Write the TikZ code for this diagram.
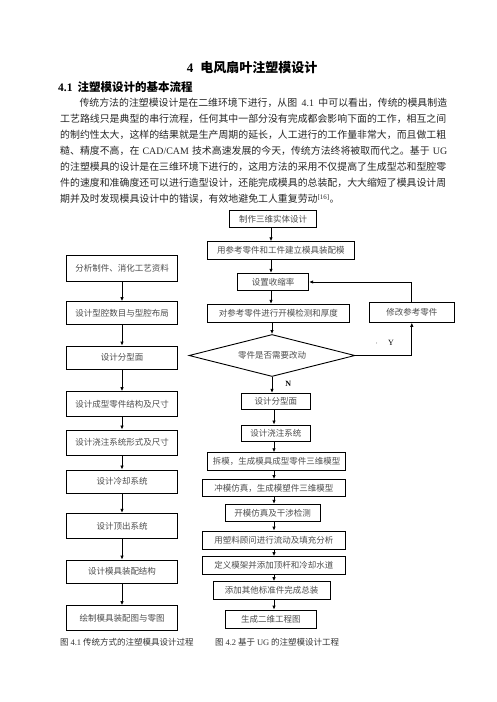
\documentclass[tikz,border=0pt]{standalone}
\usepackage{fontspec}
\setmainfont{Liberation Serif}
\newfontfamily\cjk{Noto Sans CJK SC}
\usetikzlibrary{shapes.geometric,arrows.meta}
\XeTeXlinebreaklocale "zh"
\XeTeXlinebreakskip=0pt plus 2pt
\newcommand{\latn}[1]{{\rmfamily #1}}
\begin{document}
\begin{tikzpicture}[x=1pt,y=-1pt,
  box/.style={draw,line width=0.9pt,inner sep=0pt,font=\cjk\fontsize{8.5}{10}\selectfont,text=black!70},
  lbox/.style={box,minimum width=110.6pt},
  flow/.style={line width=0.8pt,-{Latex[length=4pt,width=3.5pt]}},
  para/.style={anchor=west,inner sep=0pt,font=\cjk\fontsize{9.9}{12}\selectfont,text=black!85},
  figcap/.style={anchor=west,inner sep=0pt,font=\cjk\fontsize{8.5}{10}\selectfont,text=black!80}]
\useasboundingbox (0,0) rectangle (496,702);
% title and heading
\node[font=\cjk\bfseries\fontsize{13}{15}\selectfont] (title) at (252,68) {\latn{\bfseries 4}\hspace{7pt}电风扇叶注塑模设计};
\node[anchor=west,inner sep=0pt,font=\cjk\bfseries\fontsize{11.5}{13}\selectfont] (head) at (58,87) {\latn{\bfseries 4.1}\hspace{5pt}注塑模设计的基本流程};
% the paragraph
\node[para] (p1) at (79.3,103) {\makebox[367.7pt][s]{传统方法的注塑模设计是在二维环境下进行，从图 \latn{4.1} 中可以看出，传统的模具制造}};
\node[para] (p2) at (60,119) {\makebox[387pt][s]{工艺路线只是典型的串行流程，任何其中一部分没有完成都会影响下面的工作，相互之间}};
\node[para] (p3) at (60,135) {\makebox[387pt][s]{的制约性太大，这样的结果就是生产周期的延长，人工进行的工作量非常大，而且做工粗}};
\node[para] (p4) at (60,151) {\makebox[387pt][s]{糙、精度不高，在 \latn{CAD/CAM} 技术高速发展的今天，传统方法终将被取而代之。基于 \latn{UG}}};
\node[para] (p5) at (60,167) {\makebox[387pt][s]{的注塑模具的设计是在三维环境下进行的，这用方法的采用不仅提高了生成型芯和型腔零}};
\node[para] (p6) at (60,183) {\makebox[387pt][s]{件的速度和准确度还可以进行造型设计，还能完成模具的总装配，大大缩短了模具设计周}};
\node[para] (p7) at (60,199) {期并及时发现模具设计中的错误，有效地避免工人重复劳动\latn{\textsuperscript{[16]}}。};
% left column -- traditional process
\node[lbox,minimum height=26.7pt] (lA) at (122,268.3) {分析制件、消化工艺资料};
\node[lbox,minimum height=22.3pt] (lB) at (122,312.8) {设计型腔数目与型腔布局};
\node[lbox,minimum height=23.3pt] (lC) at (122,357.7) {设计分型面};
\node[lbox,minimum height=24.3pt] (lD) at (122,403.8) {设计成型零件结构及尺寸};
\node[lbox,minimum height=25pt] (lE) at (122,442.5) {设计浇注系统形式及尺寸};
\node[lbox,minimum height=23pt] (lF) at (122,481.5) {设计冷却系统};
\node[lbox,minimum height=25pt] (lG) at (122,525.8) {设计顶出系统};
\node[lbox,minimum height=23.3pt] (lH) at (122,571.7) {设计模具装配结构};
\node[lbox,minimum height=24.3pt] (lI) at (122,617.8) {绘制模具装配图与零图};
\foreach \a/\b in {lA/lB,lB/lC,lC/lD,lD/lE,lE/lF,lF/lG,lG/lH,lH/lI} {
\draw[flow] (\a.south) -- (\b.north);
}
% right column -- UG process
\coordinate (spU) at (271,0);
\coordinate (spL) at (274,0);
\node[box,minimum width=87.4pt,minimum height=17.7pt] (r1) at (273,218.8) {制作三维实体设计};
\node[box,minimum width=147pt,minimum height=17.6pt] (r2) at (280.8,250.5) {用参考零件和工件建立模具装配模};
\node[box,minimum width=71pt,minimum height=17.4pt] (r3) at (273.2,282) {设置收缩率};
\node[box,minimum width=142pt,minimum height=18pt] (r4) at (278.3,313.3) {对参考零件进行开模检测和厚度};
\node[box,minimum width=85pt,minimum height=20pt] (rM) at (411.8,312.3) {修改参考零件};
\node[box,diamond,aspect=4,minimum width=166pt,minimum height=42pt] (d) at (272,355.5) {零件是否需要改动};
\node[box,minimum width=68.3pt,minimum height=15.7pt] (r5) at (275.8,401.2) {设计分型面};
\node[box,minimum width=68.3pt,minimum height=16pt] (r6) at (275.8,433) {设计浇注系统};
\node[box,minimum width=138.4pt,minimum height=18pt] (r7) at (276.5,461.7) {拆模，生成模具成型零件三维模型};
\node[box,minimum width=142.3pt,minimum height=17pt] (r8) at (273.8,488) {冲模仿真，生成模塑件三维模型};
\node[box,minimum width=95pt,minimum height=17.4pt] (r9) at (272.5,513) {开模仿真及干涉检测};
\node[box,minimum width=142.3pt,minimum height=18.3pt] (r10) at (273.8,540.2) {用塑料顾问进行流动及填充分析};
\node[box,minimum width=142.3pt,minimum height=17.3pt] (r11) at (273.8,565.3) {定义模架并添加顶杆和冷却水道};
\node[box,minimum width=116.7pt,minimum height=17.3pt] (r12) at (271.7,590.3) {添加其他标准件完成总装};
\node[box,minimum width=91.7pt,minimum height=18.3pt] (r13) at (270.8,619.2) {生成二维工程图};
\foreach \a/\b in {r1/r2,r2/r3,r3/r4} {
\draw[flow] (\a.south -| spU) -- (\b.north -| spU);
}
\draw[flow] (r4.south -| d.north) -- (d.north);
\draw[flow] (d.south) -- (d.south |- r5.north);
\foreach \a/\b in {r5/r6,r6/r7,r7/r8,r8/r9,r9/r10,r10/r11,r11/r12,r12/r13} {
\draw[flow] (\a.south -| spL) -- (\b.north -| spL);
}
% the loop back
\draw[flow] (d.east) -| (rM.south);
\draw[flow] (rM.north) |- (r3.east);
\node[font=\bfseries\fontsize{8}{9}\selectfont] (nlab) at (288.3,384) {N};
\node[anchor=east,inner sep=0pt,font=\fontsize{8}{9}\selectfont] (ylab) at (394,342.7) {$\cdot$\hspace{10pt}Y};
% captions
\node[figcap] (cap1) at (60,642) {图 \latn{4.1} 传统方式的注塑模具设计过程};
\node[figcap] (cap2) at (215,642) {图 \latn{4.2} 基于 \latn{UG} 的注塑模设计工程};
\end{tikzpicture}
\end{document}
